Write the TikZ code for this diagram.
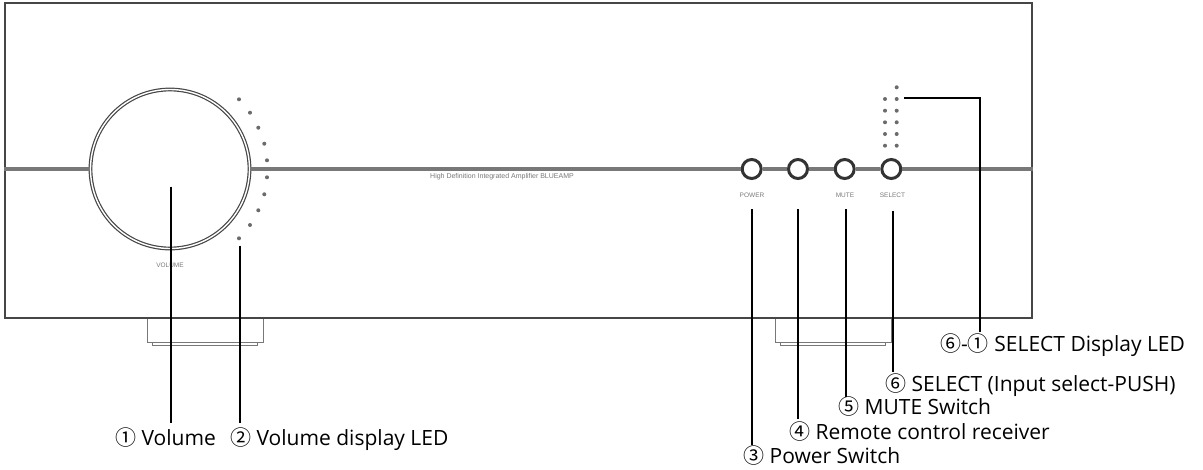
\documentclass[tikz,border=0pt]{standalone}
\usepackage{fontspec}
\setmainfont{Open Sans}
\setsansfont{Liberation Sans}
\newfontfamily\circfont{Noto Sans CJK KR}
\usetikzlibrary{positioning}
\definecolor{edgegray}{RGB}{70,70,70}
\definecolor{printgray}{RGB}{120,120,120}
\tikzstyle{led}=[circle,fill=edgegray!80,inner sep=0pt,minimum size=4pt]
\tikzstyle{btn}=[circle,draw=black!80,line width=3pt,inner sep=0pt,minimum size=19pt]
\tikzstyle{print}=[text=printgray,inner sep=0pt,font=\sffamily\fontsize{6.5}{7}\selectfont]
\tikzstyle{callout}=[anchor=west,inner sep=0pt,text height=16pt,text depth=5pt,font=\fontsize{21}{23}\selectfont]
\tikzstyle{leader}=[black,line width=2pt]
\tikzstyle{band}=[draw=printgray,line width=3.6pt]
\tikzstyle{foot}=[draw=printgray,line width=1pt]
\newcommand{\cn}[1]{{\circfont #1}}
\begin{document}
\begin{tikzpicture}[x=1pt,y=-1pt]
\useasboundingbox (0,0) rectangle (1203,469);
% feet
\draw[foot] (147,318) -- (147,342) -- (263,342) -- (263,318);
\draw[foot] (152,342) -- (152,345.5) -- (257,345.5) -- (257,342);
\draw[foot] (775,318) -- (775,342) -- (891,342) -- (891,318);
\draw[foot] (780,342) -- (780,345.5) -- (885,345.5) -- (885,342);
% front panel
\node[draw=edgegray,line width=2pt,inner sep=0pt,minimum width=1027pt,minimum height=315pt] (panel) at (518.5,160.5) {};
\node[circle,draw=edgegray,line width=1.2pt,double=white,double distance=1.4pt,inner sep=0pt,minimum size=159pt] (knob) at (170,169) {};
\node[btn] (power) at (751.7,169) {};
\node[btn] (remote) at (798,169) {};
\node[btn] (mute) at (844.7,169) {};
\node[btn] (select) at (891.3,169) {};
\path[band]
(panel.west |- knob) edge (knob.west)
(knob.east) edge (power.west)
(power.east) edge (remote.west)
(remote.east) edge (mute.west)
(mute.east) edge (select.west)
(select.east) edge (panel.east |- select);
% volume and select LEDs
\foreach \i/\x/\y in {a/239/99.3,b/250/112.7,c/258.3/127.7,d/264.3/143.7,e/267/160.3,f/267/177.3,g/264.3/194.3,h/258.3/210.3,i/250/225,j/239/238.3}
  \node[led] (vol\i) at (\x,\y) {};
\foreach \i/\y in {a/99,b/110.7,c/122.3,d/134,e/145.7} {
  \node[led] (selL\i) at (885,\y) {};
  \node[led] (selR\i) at (896.7,\y) {};
}
\node[led] (seltop) at (896.7,87.3) {};
% printed text
\node[print] at (170,265.7) {VOLUME};
\node[print] at (752,195.7) {POWER};
\node[print] at (845,195.7) {MUTE};
\node[print] at (892.5,195.7) {SELECT};
\node[print,font=\sffamily\fontsize{7}{8}\selectfont] at (502,176.7) {High Definition Integrated Amplifier BLUEAMP};
% callouts
\node[callout,minimum height=34pt] (lvolume) at (115,440) {\cn{①} Volume};
\node[callout,minimum height=33pt] (lled) at (230,439.5) {\cn{②} Volume display LED};
\node[callout,minimum height=25pt] (lpower) at (743,457.5) {\cn{③} Power Switch};
\node[callout,minimum height=29pt] (lremote) at (789,433.5) {\cn{④} Remote control receiver};
\node[callout,minimum height=23pt] (lmute) at (838,408.5) {\cn{⑤} MUTE Switch};
\node[callout,minimum height=27pt] (lselect) at (885,385.5) {\cn{⑥} SELECT (Input select-PUSH)};
\node[callout,minimum height=27pt] (lselled) at (940,345.5) {\cn{⑥}-\cn{①} SELECT Display LED};
\coordinate (tvolume) at (171,186.7);
\coordinate (tled) at (239.7,245.7);
\coordinate (tpower) at (752.3,209);
\coordinate (tremote) at (798,209);
\coordinate (tmute) at (846,209);
\coordinate (tselect) at (892.7,210.7);
\coordinate (tselled) at (904,98);
\coordinate (cselled) at (980,98);
\foreach \t/\l in {tvolume/lvolume,tled/lled,tpower/lpower,tremote/lremote,tmute/lmute,tselect/lselect}
  \draw[leader] (\t) -- (\t |- \l.north);
\draw[leader] (tselled) -- (cselled) -- (cselled |- lselled.north);
\end{tikzpicture}
\end{document}
